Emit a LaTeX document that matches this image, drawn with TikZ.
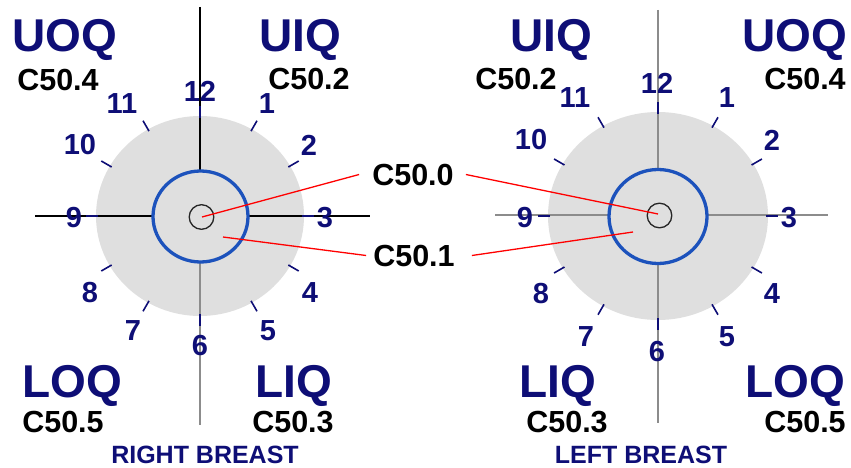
\documentclass[tikz,border=0pt]{standalone}
\usepackage{fontspec}
\setmainfont{Liberation Sans}
\definecolor{navy}{RGB}{14,14,118}
\definecolor{diskgray}{RGB}{223,223,223}
\definecolor{ringblue}{RGB}{28,82,188}
\definecolor{axisgray}{RGB}{140,140,140}
\begin{document}
\begin{tikzpicture}[x=1pt,y=-1pt,
  quad/.style={font=\bfseries\fontsize{46}{46}\selectfont, text=navy, anchor=base, inner sep=0pt},
  code/.style={font=\bfseries\fontsize{30.5}{30.5}\selectfont, text=black, anchor=base, inner sep=0pt},
  hr/.style={font=\bfseries\fontsize{29}{29}\selectfont, text=navy, inner sep=0pt},
  side/.style={font=\bfseries\fontsize{25}{25}\selectfont, text=navy, anchor=base, inner sep=0pt},
  tickmark/.style={navy, line width=1.6pt},
  blackaxis/.style={black, line width=1.5pt},
  grayaxis/.style={axisgray, line width=2pt},
  ring/.style={ringblue, line width=3.3pt},
  nipple/.style={black!85, line width=1.3pt},
  redline/.style={red, line width=1.3pt}]
\useasboundingbox (0,0) rectangle (851,468);
% ---------- centres ----------
\coordinate (rc) at (200,216);
\coordinate (lc) at (658,216);
\coordinate (rn) at (202,217);
\coordinate (ln) at (658,214);
\coordinate (rb) at (223,237);
\coordinate (lb) at (633,232);
% ---------- discs ----------
\fill[diskgray] (rc) ellipse [x radius=104pt, y radius=100pt];
\fill[diskgray] (lc) ellipse [x radius=110pt, y radius=104pt];
% ---------- axes ----------
\coordinate (rt1) at (200,7);   \coordinate (rt2) at (200,171);
\coordinate (rl1) at (35,216);  \coordinate (rl2) at (153,216);
\coordinate (rr1) at (247,216); \coordinate (rr2) at (370,216);
\coordinate (rd1) at (200,262); \coordinate (rd2) at (200,425);
\draw[blackaxis] (rt1) -- (rt2);
\draw[blackaxis] (rl1) -- (rl2);
\draw[blackaxis] (rr1) -- (rr2);
\draw[grayaxis] (rd1) -- (rd2);
\coordinate (lt1) at (658,10);  \coordinate (lt2) at (658,170);
\coordinate (ll1) at (495,215); \coordinate (ll2) at (609,215);
\coordinate (lr1) at (707,215); \coordinate (lr2) at (828,215);
\coordinate (ld1) at (658,263); \coordinate (ld2) at (658,423);
\draw[grayaxis] (lt1) -- (lt2);
\draw[grayaxis] (ll1) -- (ll2);
\draw[grayaxis] (lr1) -- (lr2);
\draw[grayaxis] (ld1) -- (ld2);
% ---------- ticks ----------
\foreach \cx/\cy/\rx/\ry in {200/216/104/100, 658/216/110/104}{
  \foreach \h in {1,...,12}{
    \pgfmathsetmacro\ang{90-30*\h}
    \draw[tickmark] ({\cx+(\rx-2)*cos(\ang)},{\cy-(\ry-2)*sin(\ang)}) --
                    ({\cx+(\rx+10)*cos(\ang)},{\cy-(\ry+10)*sin(\ang)});
  }
}
% ---------- rings ----------
\draw[ring] (200.5,216.5) ellipse [x radius=47.5pt, y radius=45.5pt];
\draw[ring] (658,216.5) ellipse [x radius=49pt, y radius=47pt];
\draw[nipple] (201.5,217) circle [radius=12.3pt];
\draw[nipple] (659.5,215.5) circle [radius=12.3pt];
% ---------- hour numbers ----------
\foreach \n/\x/\y in {12/200/91, 1/267/104, 2/309/145, 3/325/218, 4/310/293, 5/268/331,
  6/200/346, 7/133/331, 8/90/293, 9/74/218, 10/80/145, 11/122/104}{
  \node[hr] (rh\n) at (\x,\y) {\n};
}
\foreach \n/\x/\y in {12/657/83, 1/727/98, 2/772/140, 3/789/218, 4/772/294, 5/727/337,
  6/657/352, 7/586/337, 8/541/294, 9/525/218, 10/531/140, 11/575/98}{
  \node[hr] (lh\n) at (\x,\y) {\n};
}
% ---------- quadrant labels ----------
\node[quad] (ruoq) at (65,52) {UOQ};
\node[code] (ruoqc) at (58,91) {C50.4};
\node[quad] (ruiq) at (300,52) {UIQ};
\node[code] (ruiqc) at (309,90) {C50.2};
\node[quad] (rloq) at (72,397) {LOQ};
\node[code] (rloqc) at (63,432) {C50.5};
\node[quad] (rliq) at (294,397) {LIQ};
\node[code] (rliqc) at (293,432) {C50.3};
\node[side] (rname) at (205,463) {RIGHT BREAST};
\node[quad] (luiq) at (551,52) {UIQ};
\node[code] (luiqc) at (516,90) {C50.2};
\node[quad] (luoq) at (795,52) {UOQ};
\node[code] (luoqc) at (805,90) {C50.4};
\node[quad] (lliq) at (558,397) {LIQ};
\node[code] (lliqc) at (567,432) {C50.3};
\node[quad] (lloq) at (795,397) {LOQ};
\node[code] (lloqc) at (805,432) {C50.5};
\node[side] (lname) at (641,463) {LEFT BREAST};
% ---------- central codes ----------
\node[code] (c500) at (413,185) {C50.0};
\node[code] (c501) at (414,266) {C50.1};
\draw[redline] ([xshift=-13pt]c500.west) -- (rn);
\draw[redline] ([xshift=12pt]c500.east) -- (ln);
\draw[redline] ([xshift=-7pt]c501.west) -- (rb);
\draw[redline] ([xshift=17pt]c501.east) -- (lb);
\end{tikzpicture}
\end{document}
